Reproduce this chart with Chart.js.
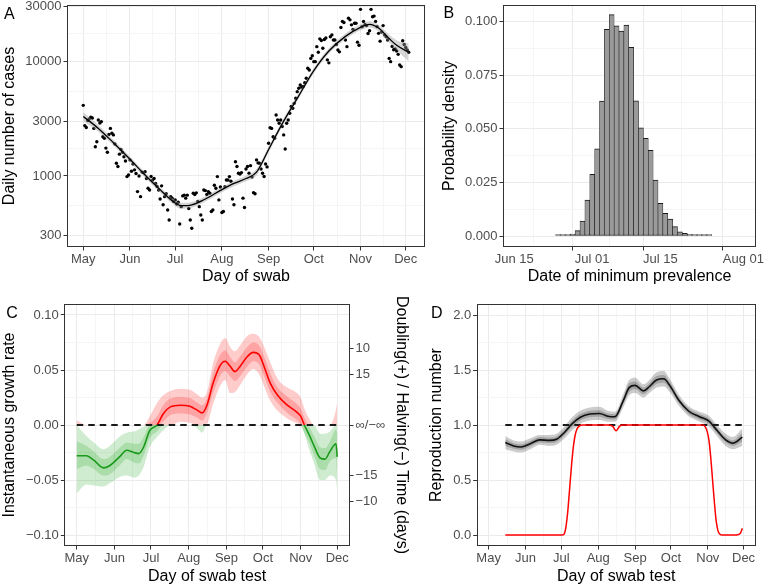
<!DOCTYPE html>
<html>
<head>
<meta charset="utf-8">
<script src="https://cdn.jsdelivr.net/npm/chart.js@4.4.1/dist/chart.umd.min.js"></script>
<style>
  body { margin: 0; background: #fff; }
  #wrap { position: relative; width: 765px; height: 588px; }
  #wrap canvas { position: absolute; }
</style>
</head>
<body>
<div id="wrap">
  <canvas id="chartA" width="430" height="290" style="left:0;top:0"></canvas>
  <canvas id="chartB" width="335" height="290" style="left:430px;top:0"></canvas>
  <canvas id="chartC" width="418" height="298" style="left:0;top:290px"></canvas>
  <canvas id="chartD" width="347" height="298" style="left:418px;top:290px"></canvas>
</div>
<script>
"use strict";

// ---------- A: daily cases, one value per day starting 1 May ----------
const casesMay = [4130, 2750, 2650, 3050, 3150, 3250, 3200, 2600, 1800, 1990, 3080, 2900, 2980, 2200, 2130, 1750,
    1610, 2300, 2600, 2360, 2280, 1900, 1290, 1210, 1550, 1700, 1610, 1470, 1350, 987, 1020];
const casesJun = [1380, 1100, 1270, 1130, 1050, 730, 1000, 660, 1080, 1070, 1090, 950, 780, 755, 990, 920,
    950, 860, 810, 755, 630, 820, 560, 660, 700, 505, 413, 660, 640, 600];
const casesJul = [618, 570, 590, 381, 540, 670, 680, 640, 680, 520, 413, 350, 706, 690, 712, 600,
    540, 457, 413, 755, 745, 690, 730, 706, 490, 505, 830, 780, 987, 618, 800];
const casesAug = [480, 490, 807, 923, 923, 987, 900, 630, 560, 1330, 1210, 1055, 1040, 1070, 640, 530,
    1150, 1210, 1055, 1230, 980, 715, 700, 1380, 1300, 1290, 1150, 1055, 990, 1270, 1200];
const casesSep = [1930, 2630, 2600, 2200, 2130, 3400, 3080, 2880, 3080, 2700, 2280, 1720, 2880, 3080, 3520,
    4030, 3900, 4300, 4760, 5440, 5820, 6220, 5950, 6030, 6500, 7110, 8700, 8410, 10600, 11200];
const casesOct = [9930, 9930, 13430, 12000, 15700, 15200, 13000, 15500, 16000, 10300, 9700, 16400, 17000,
    15350, 15350, 14000, 12560, 12100, 19700, 22300, 21800, 15350, 13430, 23800, 23000, 20800, 19000,
    21500, 21500, 14700, 13800];
const casesNovDec = [28400, 20000, 22300, 21000, 20500, 17500, 18500, 28400, 24500, 24800, 22300, 20070,
    17540, 15000, 18000, 20500, 17000, 16400, 15350, 10600, 9930, 13500, 12600, 12800, 12300, 11500,
    9300, 8990, 15100, 14000, 13200, 12560, 12000];

// smoothed fit with its band
const smoothDays = [0, 10, 20, 31, 40, 50, 61, 65, 72, 80, 92, 100, 108, 115, 123, 132, 143, 153, 163, 174, 184, 190, 196, 203, 208, 216];
const smoothMid = [3300, 2600, 1950, 1400, 1050, 780, 580, 550, 560, 620, 760, 860, 950, 1080, 1700, 2850, 5000, 8300, 12300, 16500, 19800, 21000, 19500, 15800, 13800, 12000];
const smoothLo = [3000, 2430, 1840, 1325, 995, 738, 548, 518, 528, 586, 720, 815, 900, 1010, 1600, 2690, 4730, 7870, 11650, 15600, 18650, 19750, 18250, 14600, 12500, 10000];
const smoothHi = [3620, 2780, 2065, 1480, 1108, 825, 614, 584, 594, 656, 802, 907, 1003, 1155, 1806, 3020, 5290, 8750, 12990, 17450, 21020, 22330, 20830, 17100, 15250, 14300];

// ---------- B: date of minimum prevalence (days relative to 1 July) ----------
const minDays = [-7, -6, -5, -4, -3, -2, -1, 0, 1, 2, 3, 4, 5, 6, 7, 8, 9, 10, 11, 12, 13, 14, 15, 16, 17, 18, 19, 20, 21, 22, 23, 24];
const minDensity = [0.0001, 0.0001, 0.0002, 0.0009, 0.0025, 0.0070, 0.0168, 0.0288, 0.0407, 0.0630, 0.0964,
    0.1033, 0.0981, 0.0956, 0.0984, 0.0880, 0.0631, 0.0505, 0.0456, 0.0400, 0.0261, 0.0152, 0.0106,
    0.0079, 0.0044, 0.0020, 0.0012, 0.0008, 0.0005, 0.0003, 0.0002, 0.0001];

// ---------- C: instantaneous growth rate ----------
const growthDays = [0, 8, 14, 22, 27, 36, 41, 47, 51, 55, 60, 66, 71, 77, 85, 93, 99, 103, 107, 112, 118, 122,
    126, 130, 134, 140, 145, 150, 154, 159, 165, 173, 181, 184, 187, 191, 195, 200, 204, 208, 213, 214];
const growthMid = [-0.028, -0.028, -0.032, -0.039, -0.037, -0.028, -0.023, -0.025, -0.026, -0.020, -0.005, 0.000,
    0.010, 0.0165, 0.018, 0.017, 0.0135, 0.011, 0.018, 0.038, 0.0545, 0.058, 0.0535, 0.0485, 0.053, 0.062,
    0.066, 0.0636, 0.053, 0.038, 0.027, 0.018, 0.0115, 0.008, 0.000, -0.009, -0.019, -0.030, -0.031, -0.024, -0.017, -0.029];
const growthHi95 = [0.004, -0.010, -0.016, -0.022, -0.019, -0.010, -0.007, -0.006, -0.004, -0.0015, 0.008, 0.020,
    0.027, 0.031, 0.033, 0.032, 0.028, 0.025, 0.030, 0.056, 0.074, 0.079, 0.071, 0.067, 0.072, 0.081,
    0.083, 0.080, 0.071, 0.057, 0.042, 0.034, 0.029, 0.025, 0.015, 0.006, 0.000, -0.008, -0.008, -0.006, 0.014, 0.021];
const growthLo95 = [-0.062, -0.054, -0.055, -0.056, -0.053, -0.047, -0.046, -0.048, -0.046, -0.038, -0.020, -0.011,
    -0.005, 0.000, 0.003, 0.002, -0.003, -0.007, 0.001, 0.019, 0.036, 0.041, 0.029, 0.030, 0.036, 0.046,
    0.051, 0.046, 0.035, 0.022, 0.013, 0.006, 0.0015, -0.001, -0.008, -0.022, -0.035, -0.050, -0.050, -0.046, -0.050, -0.059];
const growthHi50 = [-0.015, -0.019, -0.024, -0.031, -0.029, -0.020, -0.016, -0.017, -0.017, -0.011, 0.002, 0.008,
    0.018, 0.024, 0.0255, 0.0245, 0.0205, 0.018, 0.024, 0.047, 0.064, 0.068, 0.062, 0.057, 0.062, 0.071,
    0.075, 0.072, 0.062, 0.047, 0.034, 0.026, 0.019, 0.015, 0.007, -0.002, -0.010, -0.020, -0.021, -0.015, -0.004, -0.008];
const growthLo50 = [-0.040, -0.037, -0.040, -0.046, -0.045, -0.036, -0.031, -0.034, -0.035, -0.028, -0.012, -0.006,
    0.003, 0.009, 0.0105, 0.0095, 0.0065, 0.004, 0.011, 0.029, 0.045, 0.049, 0.044, 0.040, 0.044, 0.053,
    0.058, 0.055, 0.044, 0.030, 0.020, 0.011, 0.0045, 0.001, -0.007, -0.016, -0.028, -0.040, -0.041, -0.033, -0.030, -0.048];

// ---------- D: reproduction number ----------
const reproDays = [14, 21, 27, 35, 43, 51, 57, 63, 70, 77, 85, 93, 100, 106, 113, 118, 123, 130, 135, 141, 147, 152, 160, 168, 177, 185, 191, 199, 205, 213];
const reproMid = [0.84, 0.81, 0.80, 0.83, 0.865, 0.86, 0.87, 0.925, 1.01, 1.07, 1.10, 1.105, 1.08, 1.075, 1.22, 1.34, 1.36, 1.31, 1.35, 1.41, 1.42, 1.36, 1.22, 1.125, 1.075, 1.035, 0.96, 0.865, 0.835, 0.89];
const reproLo95 = [0.78, 0.76, 0.75, 0.78, 0.82, 0.81, 0.82, 0.87, 0.95, 1.01, 1.04, 1.045, 1.03, 1.03, 1.16, 1.27, 1.29, 1.25, 1.29, 1.34, 1.35, 1.30, 1.17, 1.08, 1.03, 0.985, 0.91, 0.81, 0.78, 0.81];
const reproHi95 = [0.90, 0.86, 0.85, 0.88, 0.91, 0.91, 0.92, 0.98, 1.07, 1.13, 1.16, 1.165, 1.13, 1.12, 1.28, 1.41, 1.43, 1.37, 1.41, 1.48, 1.49, 1.42, 1.27, 1.17, 1.12, 1.085, 1.01, 0.92, 0.89, 0.97];
const reproLo50 = [0.81, 0.785, 0.775, 0.805, 0.84, 0.835, 0.845, 0.90, 0.98, 1.04, 1.07, 1.075, 1.055, 1.05, 1.19, 1.30, 1.325, 1.28, 1.32, 1.375, 1.385, 1.33, 1.195, 1.10, 1.05, 1.01, 0.935, 0.84, 0.81, 0.85];
const reproHi50 = [0.87, 0.835, 0.825, 0.855, 0.89, 0.885, 0.895, 0.95, 1.04, 1.10, 1.13, 1.135, 1.105, 1.10, 1.25, 1.38, 1.395, 1.34, 1.38, 1.445, 1.455, 1.39, 1.245, 1.15, 1.10, 1.06, 0.985, 0.89, 0.86, 0.93];
const probDays = [14, 40, 62, 63.5, 65, 66.5, 68, 69.5, 71, 72.5, 74, 76, 79, 100, 104, 107, 110, 113, 180, 182,
    183.5, 185, 186.5, 188, 189.5, 191, 192.5, 194, 196, 208, 210, 211.5, 213];
const probValues = [0, 0, 0, 0.01, 0.08, 0.22, 0.42, 0.62, 0.79, 0.90, 0.96, 0.99, 1.0, 1.0, 0.99, 0.948, 0.99, 1.0, 1.0, 0.98,
    0.94, 0.86, 0.70, 0.50, 0.30, 0.13, 0.04, 0.01, 0, 0, 0.005, 0.02, 0.06];

// ---------- ticks ----------
const monthDays = [0, 31, 61, 92, 123, 153, 184, 214];
const monthLabels = ['May', 'Jun', 'Jul', 'Aug', 'Sep', 'Oct', 'Nov', 'Dec'];
const dateDays = [-16, 0, 14, 31];
const dateLabels = ['Jun 15', 'Jul 01', 'Jul 15', 'Aug 01'];
const caseTicks = [300, 1000, 3000, 10000, 30000];
const caseTickLabels = ['300', '1000', '3000', '10000', '30000'];
const densityTicks = [0, 0.025, 0.05, 0.075, 0.1];
const densityTickLabels = ['0.000', '0.025', '0.050', '0.075', '0.100'];
const growthTicks = [-0.1, -0.05, 0, 0.05, 0.1];
const growthTickLabels = ['\u22120.10', '\u22120.05', '0.00', '0.05', '0.10'];
const doublingTimes = [-10, -15, 15, 10];
const doublingLabels = ['\u221210', '\u221215', '15', '10'];
const reproTicks = [0, 0.5, 1, 1.5, 2];
const reproTickLabels = ['0.0', '0.5', '1.0', '1.5', '2.0'];

const GRID = '#ebebeb';
const GRID_MINOR = '#f5f5f5';
const INK = '#333333';
const RED = '#ff0000';
const GREEN = '#1a9a1a';

Chart.defaults.font.family = '"Liberation Sans", Arial, Helvetica, sans-serif';
Chart.defaults.animation = false;

const toXY = (xs, ys) => xs.map((x, i) => ({x: x, y: ys[i]}));

// majors with labels plus unlabelled minor lines half way between them
const tickSet = (values, texts, minors) => {
    const list = values.map((v, i) => ({value: v, text: texts[i]}));
    if (minors) {
        for (let i = 0; i < values.length - 1; i++) {
            const m = minors === 'log' ? Math.sqrt(values[i] * values[i + 1]) : (values[i] + values[i + 1]) / 2;
            list.push({value: m, text: '', minor: true});
        }
    }
    return list.sort((a, b) => a.value - b.value);
};

const axisFor = (cfg) => ({
    type: cfg.type || 'linear',
    position: cfg.position,
    min: cfg.min,
    max: cfg.max,
    bounds: 'data',
    offset: false,
    afterBuildTicks: s => { s.ticks = tickSet(cfg.values, cfg.texts, cfg.minors); },
    afterFit: s => {
        if (s.isHorizontal()) s.height = cfg.size; else s.width = cfg.size;
        s.paddingLeft = 0; s.paddingRight = 0; s.paddingTop = 0; s.paddingBottom = 0;
    },
    border: {display: false},
    grid: {
        drawOnChartArea: cfg.onArea !== false,
        color: c => (c.tick && c.tick.minor) ? GRID_MINOR : GRID,
        lineWidth: 1,
        tickLength: 3.5,
        tickWidth: 1,
        tickColor: c => (c.tick && c.tick.minor) ? 'rgba(0,0,0,0)' : INK
    },
    ticks: {
        autoSkip: false,
        maxRotation: 0,
        padding: cfg.tickPad,
        color: '#4d4d4d',
        font: {size: 13},
        callback: (v, i, ticks) => ticks[i].text
    },
    title: {display: true, text: cfg.title, color: '#000', font: {size: 16}, padding: cfg.titlePad}
});

// panel border and the panel letter
const panelFrame = {
    id: 'panelFrame',
    afterDraw(chart, args, opts) {
        const ctx = chart.ctx;
        const a = chart.chartArea;
        ctx.save();
        ctx.strokeStyle = INK;
        ctx.lineWidth = 1;
        const l = Math.round(a.left), t = Math.round(a.top);
        ctx.strokeRect(l + 0.5, t + 0.5, Math.round(a.right) - l - 1, Math.round(a.bottom) - t - 1);
        ctx.fillStyle = '#000';
        ctx.font = '16px "Liberation Sans", Arial, sans-serif';
        ctx.textAlign = 'center';
        ctx.textBaseline = 'alphabetic';
        ctx.fillText(opts.text, opts.x, opts.y);
        ctx.restore();
    }
};
Chart.register(panelFrame);

const baseOptions = (scales, padding, letter) => ({
    responsive: false,
    animation: false,
    events: [],
    layout: {padding: padding},
    plugins: {legend: {display: false}, tooltip: {enabled: false}, panelFrame: letter},
    scales: scales
});

const lineSet = (xs, ys, extra) => Object.assign({
    data: toXY(xs, ys),
    pointRadius: 0,
    borderWidth: 0,
    borderColor: 'rgba(0,0,0,0)',
    fill: false,
    cubicInterpolationMode: 'monotone'
}, extra);

// filled band: upper line fills down to the lower line right after it
const band = (xs, hi, lo, color, order) => [
    lineSet(xs, hi, {fill: '+1', backgroundColor: color, order: order}),
    lineSet(xs, lo, {order: order})
];

const monthAxis = (min, max, size, title, tickPad, titlePad) => axisFor({
    min: min, max: max, values: monthDays, texts: monthLabels, minors: true,
    size: size, title: title, tickPad: tickPad, titlePad: titlePad
});

// ---------- panel A ----------
const casesAll = [].concat(casesMay, casesJun, casesJul, casesAug, casesSep, casesOct, casesNovDec);
const caseDays = casesAll.map((v, i) => i);

new Chart(document.getElementById('chartA'), {
    type: 'line',
    data: {
        datasets: [
            lineSet(caseDays, casesAll, {showLine: false, pointRadius: 1.7, pointBackgroundColor: '#000', pointBorderWidth: 0, order: 3}),
            ...band(smoothDays, smoothHi, smoothLo, 'rgba(153,153,153,0.4)', 2),
            lineSet(smoothDays, smoothMid, {borderColor: '#000', borderWidth: 1.3, order: 1})
        ]
    },
    options: baseOptions({
        x: monthAxis(-10.8, 226.8, 43, 'Day of swab', 1.5, {top: 0, bottom: 3.4}),
        y: axisFor({type: 'logarithmic', min: 240, max: 31000, values: caseTicks, texts: caseTickLabels, minors: 'log',
            size: 67, title: 'Daily number of cases', tickPad: 2, titlePad: {top: 0.4, bottom: 0}})
    }, {left: 0, right: 5, top: 5, bottom: 0}, {text: 'A', x: 9.3, y: 18.5})
});

// ---------- panel B ----------
new Chart(document.getElementById('chartB'), {
    type: 'bar',
    data: {
        datasets: [{
            data: toXY(minDays, minDensity),
            backgroundColor: '#9a9a9a',
            borderColor: '#1a1a1a',
            borderWidth: {top: 1, bottom: 1, left: 0.6, right: 0.6},
            borderSkipped: false,
            minBarLength: 1.5,
            barPercentage: 1,
            categoryPercentage: 1
        }]
    },
    options: baseOptions({
        x: axisFor({min: -18.3, max: 33.6, values: dateDays, texts: dateLabels, minors: true,
            size: 43, title: 'Date of minimum prevalence', tickPad: 1.5, titlePad: {top: 0, bottom: 3.4}}),
        y: axisFor({min: -0.00513, max: 0.1078, values: densityTicks, texts: densityTickLabels, minors: true,
            size: 73, title: 'Probability density', tickPad: 2, titlePad: {top: 10.4, bottom: 0}})
    }, {left: 0, right: 9, top: 5, bottom: 0}, {text: 'B', x: 18.8, y: 17.5})
});

// ---------- panel C ----------
const clipPos = arr => arr.map(v => Math.max(v, 0));
const clipNeg = arr => arr.map(v => Math.min(v, 0));
const growthZero = 0;
const yC = axisFor({min: -0.11, max: 0.11, values: growthTicks, texts: growthTickLabels, minors: true,
    size: 64.3, title: 'Instantaneous growth rate', tickPad: 2, titlePad: {top: 0.4, bottom: 0}});
const yC2 = axisFor({position: 'right', min: -0.11, max: 0.11,
    values: [-Math.LN2 / 10, -Math.LN2 / 15, 0, Math.LN2 / 15, Math.LN2 / 10],
    texts: [doublingLabels[0], doublingLabels[1], '\u221e/\u2212\u221e', doublingLabels[2], doublingLabels[3]],
    minors: false, onArea: false, size: 68, title: 'Doubling(+) / Halving(\u2212) Time (days)',
    tickPad: 2, titlePad: {top: 6.7, bottom: 0}});

new Chart(document.getElementById('chartC'), {
    type: 'line',
    data: {
        datasets: [
            ...band(growthDays, clipPos(growthHi95), clipPos(growthLo95), 'rgba(255,0,0,0.2)', 5),
            ...band(growthDays, clipNeg(growthHi95), clipNeg(growthLo95), 'rgba(20,160,20,0.2)', 5),
            ...band(growthDays, clipPos(growthHi50), clipPos(growthLo50), 'rgba(255,0,0,0.2)', 4),
            ...band(growthDays, clipNeg(growthHi50), clipNeg(growthLo50), 'rgba(20,160,20,0.2)', 4),
            lineSet(growthDays, growthMid, {
                borderColor: RED, borderWidth: 1.6, order: 2,
                segment: {borderColor: c => ((c.p0.parsed.y + c.p1.parsed.y) / 2 >= 0 ? RED : GREEN)}
            }),
            lineSet([growthDays[0], growthDays[growthDays.length - 1]], [growthZero, growthZero], {
                borderColor: '#1a1a1a', borderWidth: 1.8, borderDash: [6.5, 5], cubicInterpolationMode: 'default', order: 1
            })
        ]
    },
    options: baseOptions({
        x: monthAxis(-10.2, 224.5, 42, 'Day of swab test', 1.5, {top: 0, bottom: 1.7}),
        y: yC,
        y2: yC2
    }, {left: 0, right: 0, top: 14, bottom: 0}, {text: 'C', x: 12, y: 27.8})
});

// ---------- panel D ----------
const reproOne = 1;
new Chart(document.getElementById('chartD'), {
    type: 'line',
    data: {
        datasets: [
            ...band(reproDays, reproHi95, reproLo95, 'rgba(0,0,0,0.2)', 5),
            ...band(reproDays, reproHi50, reproLo50, 'rgba(0,0,0,0.2)', 4),
            lineSet(reproDays, reproMid, {borderColor: '#111', borderWidth: 1.6, order: 3}),
            lineSet([reproDays[0], reproDays[reproDays.length - 1]], [reproOne, reproOne], {
                borderColor: '#1a1a1a', borderWidth: 1.8, borderDash: [6.5, 5], cubicInterpolationMode: 'default', order: 2
            }),
            lineSet(probDays, probValues, {borderColor: RED, borderWidth: 1.5, order: 1})
        ]
    },
    options: baseOptions({
        x: monthAxis(-10, 224.2, 42, 'Day of swab test', 1.5, {top: 0, bottom: 1.7}),
        y: axisFor({min: -0.1, max: 2.1, values: reproTicks, texts: reproTickLabels, minors: true,
            size: 58.7, title: 'Reproduction number', tickPad: 2, titlePad: {top: 9.1, bottom: 0}})
    }, {left: 0, right: 9.3, top: 14, bottom: 0}, {text: 'D', x: 18.7, y: 27.5})
});
</script>
</body>
</html>
